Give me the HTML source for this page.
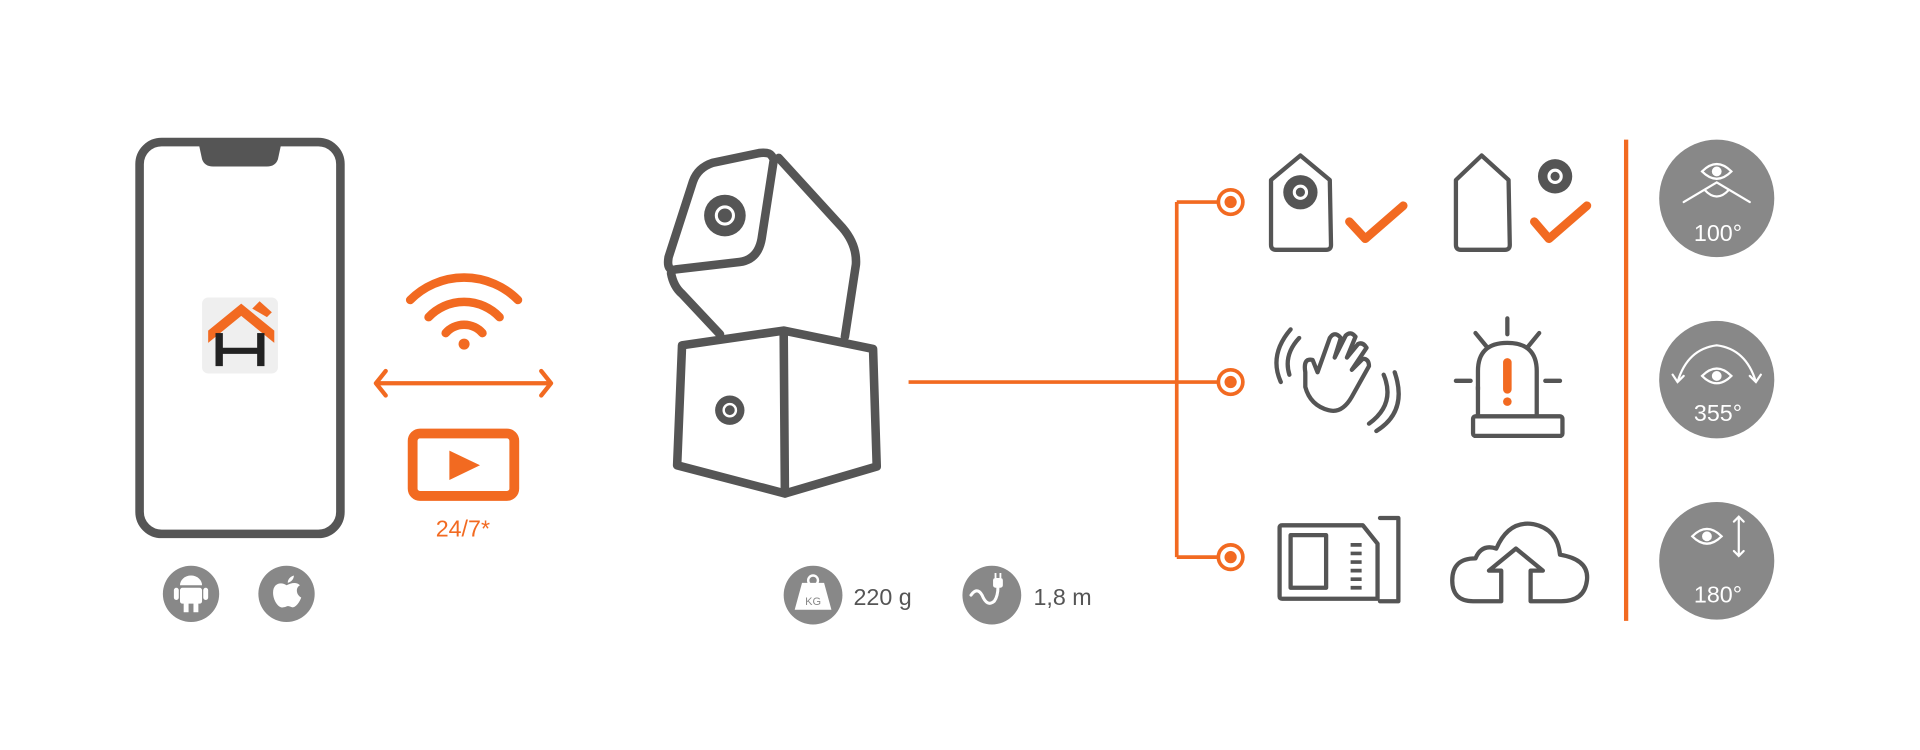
<!DOCTYPE html>
<html><head><meta charset="utf-8"><style>
html,body{margin:0;padding:0;background:#fff;width:1920px;height:750px;overflow:hidden}
svg{display:block}
text{font-family:"Liberation Sans",sans-serif}
</style></head><body>
<svg width="1920" height="750" viewBox="0 0 1568 612.5" xmlns="http://www.w3.org/2000/svg">
<g fill="none" stroke="#555" stroke-width="7" stroke-linejoin="round" stroke-linecap="round">
<rect x="114" y="116" width="164" height="320" rx="18"/>
</g>
<path d="M162 116 L230 116 L227 130 Q225 136 218 136 L174 136 Q167 136 165 130 Z" fill="#555"/>
<rect x="165" y="243" width="62" height="62" rx="5" fill="#efefef"/>
<path d="M170 270 L197 248 L224 270 L224 280 L197 258 L170 280 Z" fill="#f26a21"/>
<path d="M206 252 L212 246 L222 255 L218 259 Z" fill="#f26a21"/>
<rect x="176" y="272" width="6" height="27" fill="#222"/><rect x="210" y="272" width="6" height="27" fill="#222"/><rect x="176" y="284" width="40" height="5" fill="#222"/>
<circle cx="156" cy="485" r="23" fill="#888"/><circle cx="234" cy="485" r="23" fill="#888"/>
<path d="M147 478 a9 8 0 0 1 18 0 Z" fill="#fff"/><rect x="147" y="480" width="18" height="13" rx="2" fill="#fff"/><rect x="142" y="480" width="4" height="10" rx="2" fill="#fff"/><rect x="166" y="480" width="4" height="10" rx="2" fill="#fff"/><rect x="150" y="492" width="4" height="8" fill="#fff"/><rect x="158" y="492" width="4" height="8" fill="#fff"/>
<path d="M234 478 c-4 -3 -11 -2 -11 6 c0 7 5 13 8 12 c2 0 3 -1 4 -1 c2 0 3 1 4 1 c3 0 6 -5 7 -8 c-4 -2 -5 -8 -1 -10 c-3 -3 -7 -2 -11 0 Z M235 476 c0 -3 2 -5 5 -6 c0 3 -2 5 -5 6Z" fill="#fff"/>
<g fill="none" stroke="#f26a21" stroke-width="7" stroke-linecap="round">
<path d="M335 245 A62 62 0 0 1 423 245"/>
<path d="M350 259 A40 40 0 0 1 408 259"/>
<path d="M364 272 A20 20 0 0 1 394 272"/>
</g>
<circle cx="379" cy="281" r="4.5" fill="#f26a21"/>
<g fill="none" stroke="#f26a21" stroke-width="3.5" stroke-linecap="round" stroke-linejoin="round">
<path d="M307 313 L450 313 M315 303 L307 313 L315 323 M442 303 L450 313 L442 323"/>
</g>
<rect x="337" y="354" width="83" height="51" rx="6" fill="none" stroke="#f26a21" stroke-width="8"/>
<path d="M367 368 L392 380 L367 392 Z" fill="#f26a21"/>
<text x="378" y="438" font-size="19" fill="#f26a21" text-anchor="middle">24/7*</text>
<g fill="none" stroke="#555" stroke-width="7" stroke-linejoin="round" stroke-linecap="round">
<path d="M557 282 L640 270 L713 285 L716 381 L641 403 L553 380 Z"/>
<path d="M640 270 L641 403"/>
<path d="M630 127 L632 130 L622 195 Q619 212 604 214 L552 220 Q544 222 546 210 L566 148 Q570 137 582 133 L620 125 Q628 124 630 127 Z"/>
<path d="M636 129 L688 186 Q700 200 699 216 L690 275"/>
<path d="M548 223 Q550 234 557 240 L588 273"/>
</g>
<circle cx="592" cy="176" r="17" fill="#555"/><circle cx="592" cy="176" r="7" fill="none" stroke="#fff" stroke-width="2.5"/>
<circle cx="596" cy="335" r="12" fill="#555"/><circle cx="596" cy="335" r="5" fill="none" stroke="#fff" stroke-width="2"/>
<circle cx="664" cy="486" r="24" fill="#888"/>
<path d="M655 476 L673 476 L679 498 L649 498 Z" fill="#fff"/><circle cx="664" cy="474" r="4" fill="none" stroke="#fff" stroke-width="2"/>
<text x="664" y="494" font-size="9" fill="#888" text-anchor="middle">KG</text>
<text x="697" y="494" font-size="19" fill="#555">220 g</text>
<circle cx="810" cy="486" r="24" fill="#888"/>
<path d="M793 486 q5 -7 9 0 q4 10 10 5 q3 -4 3 -12" fill="none" stroke="#fff" stroke-width="2.5" stroke-linecap="round"/>
<rect x="811" y="472" width="8" height="8" rx="2" fill="#fff"/><path d="M813 472 v-4 M817 472 v-4" stroke="#fff" stroke-width="1.5"/>
<text x="844" y="494" font-size="19" fill="#555">1,8 m</text>
<g fill="none" stroke="#f26a21" stroke-width="3">
<path d="M742 312 L995 312 M961 165 L961 455 M961 165 L995 165 M961 455 L995 455"/>
<circle cx="1005" cy="165" r="10"/><circle cx="1005" cy="312" r="10"/><circle cx="1005" cy="455" r="10"/>
<path d="M1328 114 L1328 507" stroke-width="3.5"/>
</g>
<circle cx="1005" cy="165" r="5" fill="#f26a21"/><circle cx="1005" cy="312" r="5" fill="#f26a21"/><circle cx="1005" cy="455" r="5" fill="#f26a21"/>
<g fill="none" stroke="#555" stroke-width="3.5" stroke-linejoin="round" stroke-linecap="round">
<path d="M1038 147 L1062 127 L1086 147 L1087 200 Q1087 204 1083 204 L1042 204 Q1038 204 1038 200 Z"/>
<path d="M1189 147 L1210 127 L1232 147 L1233 200 Q1233 204 1229 204 L1193 204 Q1189 204 1189 200 Z"/>
<path d="M1066 304 Q1064 292 1072 294 L1076 304 L1086 276 Q1090 270 1095 276 L1090 292 L1099 274 Q1103 270 1107 275 L1100 292 L1109 281 Q1113 279 1116 284 L1104 302 L1113 293 Q1118 293 1118 299 L1104 324 Q1096 338 1085 335 Q1070 331 1066 316 Z"/>
<path d="M1054 269 Q1036 290 1046 312 M1061 276 Q1048 290 1053 306"/>
<path d="M1130 306 Q1140 330 1118 346 M1139 304 Q1150 336 1124 352"/>
<path d="M1207 318 L1207 303 Q1207 280 1231 280 Q1255 280 1255 303 L1255 340"/>
<path d="M1207 316 L1207 340"/>
<rect x="1203" y="340" width="73" height="16" rx="2"/>
<path d="M1231 260 L1231 273 M1205 272 L1214 283 M1257 272 L1248 283 M1189 311 L1201 311 M1262 311 L1274 311"/>
<path d="M1047 429 L1113 429 L1125 444 L1125 489 L1047 489 Q1045 489 1045 487 L1045 431 Q1045 429 1047 429 Z"/>
<rect x="1054" y="437" width="29" height="43"/>
<path d="M1127 423 L1142 423 L1142 491 L1127 491"/>
<path d="M1225 491 L1203 491 Q1186 491 1186 474 Q1186 456 1205 456 Q1210 444 1222 448 Q1232 425 1252 428 Q1272 432 1274 453 Q1298 457 1296 474 Q1294 491 1275 491 L1250 491 L1250 466 L1260 466 L1238 448 L1216 466 L1226 466 L1226 491"/>
</g>
<g stroke="#555" stroke-width="3"><path d="M1103 445 H1112 M1103 452 H1112 M1103 459 H1112 M1103 466 H1112 M1103 473 H1112 M1103 480 H1112"/></g>
<circle cx="1062" cy="157" r="14" fill="#555"/><circle cx="1062" cy="157" r="5" fill="none" stroke="#fff" stroke-width="2.5"/>
<circle cx="1270" cy="144" r="14" fill="#555"/><circle cx="1270" cy="144" r="5" fill="none" stroke="#fff" stroke-width="2.5"/>
<g fill="none" stroke="#f26a21" stroke-width="7" stroke-linecap="round" stroke-linejoin="round">
<path d="M1102 181 L1115 195 L1146 168"/>
<path d="M1253 181 L1265 195 L1296 168"/>
<path d="M1231 296 L1231 318"/>
</g>
<circle cx="1231" cy="328" r="3.5" fill="#f26a21"/>
<g fill="#888"><ellipse cx="1402" cy="162" rx="47" ry="48"/><ellipse cx="1402" cy="310" rx="47" ry="48"/><ellipse cx="1402" cy="458" rx="47" ry="48"/></g>
<g fill="none" stroke="#fff" stroke-width="1.8" stroke-linecap="round">
<path d="M1390 140 Q1402 128 1414 140 Q1402 152 1390 140 Z"/>
<path d="M1375 165 L1402 149 L1429 165 M1392 155 Q1402 166 1412 155"/>
<path d="M1390 329 Q1402 317 1414 329 Q1402 341 1390 329 Z" transform="translate(0,-22)"/>
<path d="M1370 312 Q1378 285 1402 282 Q1426 285 1434 312 M1366 306 L1370 312 L1375 307 M1429 307 L1434 312 L1438 306"/>
<path d="M1382 438 Q1394 426 1406 438 Q1394 450 1382 438 Z"/>
<path d="M1420 422 L1420 454 M1416 426 L1420 422 L1424 426 M1416 450 L1420 454 L1424 450"/>
</g>
<circle cx="1402" cy="140" r="4" fill="#fff"/><circle cx="1402" cy="307" r="4" fill="#fff"/><circle cx="1394" cy="438" r="4" fill="#fff"/>
<g fill="#fff" font-size="19" text-anchor="middle">
<text x="1403" y="197">100°</text><text x="1403" y="344">355°</text><text x="1403" y="492">180°</text>
</g>
</svg>
</body></html>
